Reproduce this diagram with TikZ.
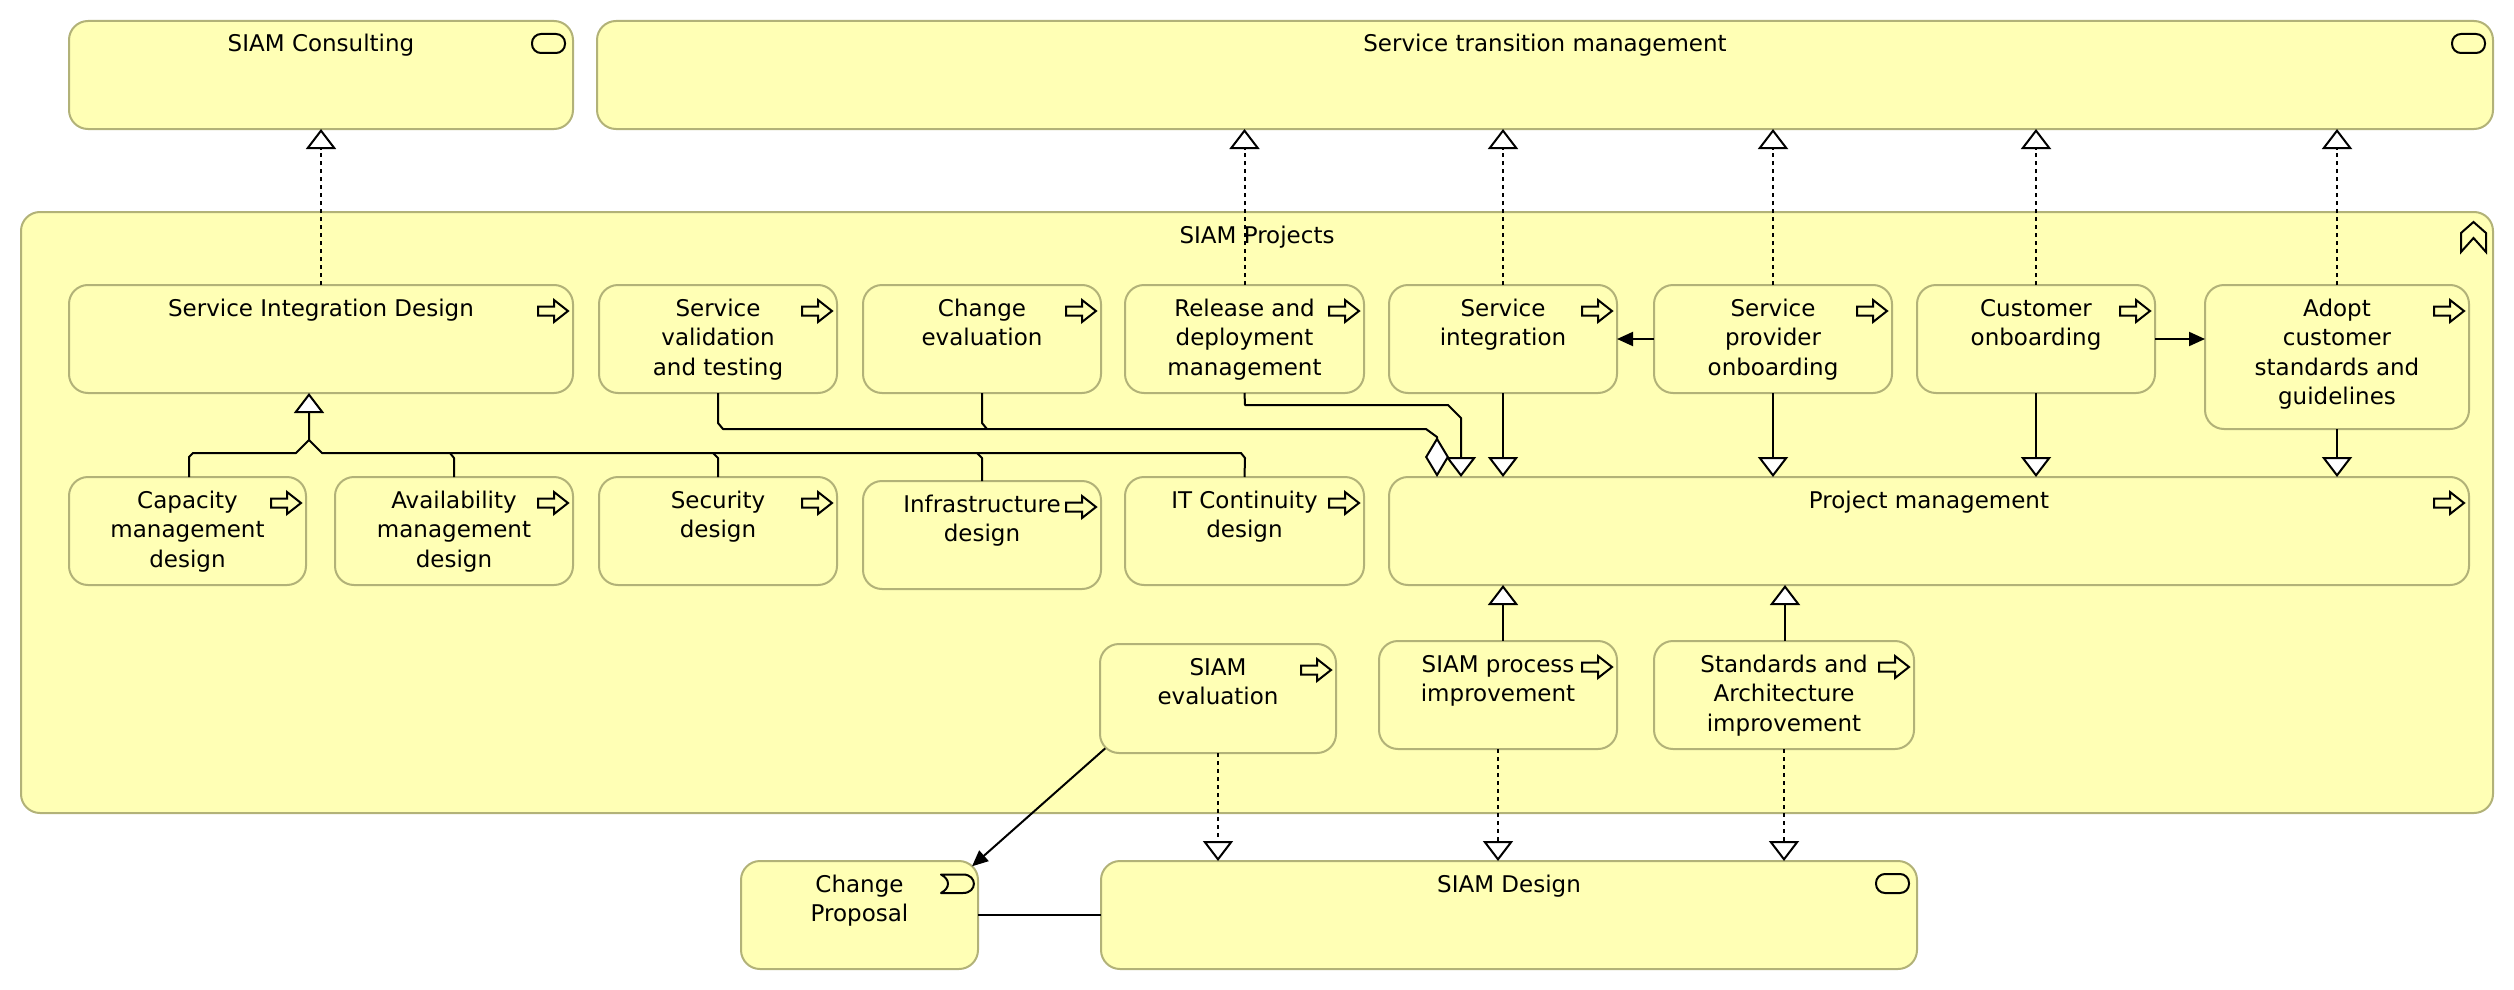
\documentclass[tikz,border=0pt]{standalone}
\usepackage{fontspec}
\setmainfont{DejaVu Sans}
\usetikzlibrary{arrows.meta}
\definecolor{boxfill}{RGB}{255,255,181}
\definecolor{boxline}{RGB}{178,178,120}
\tikzset{
  box/.style={draw=boxline,fill=boxfill,line width=2pt,rounded corners=19pt,inner sep=0pt,outer sep=0pt,anchor=north west},
  conn/.style={draw=black,line width=2pt,line join=round},
  icon/.style={draw=black,line width=2pt,line join=miter},
  openhead/.tip={Triangle[open,fill=white,length=20pt,width=30pt,line width=2pt]},
  flowhead/.tip={Triangle[length=16pt,width=14pt]},
  realize/.style={conn,dash pattern=on 4pt off 4pt,-{openhead}},
  solidtri/.style={conn,-{openhead}},
  trigger/.style={conn,-{flowhead}},
}
\newcommand{\bx}[6]{%
  \pgfmathsetlengthmacro{\bw}{(#4)-(#2)}%
  \pgfmathsetlengthmacro{\bh}{(#5)-(#3)}%
  \node[box] (#1) at (#2,#3) {\parbox[t][\bh][t]{\bw}{\centering\fontsize{23}{29.6}\selectfont\rule{0pt}{31pt}#6}};}
\newcommand{\proc}[1]{\draw[icon,shift={(#1.north east)}] (-35,21.5) -- (-19,21.5) -- (-19,15) -- (-5,26) -- (-19,37) -- (-19,30.5) -- (-35,30.5) -- cycle;}
\newcommand{\serv}[1]{\draw[icon,rounded corners=9pt,shift={(#1.north east)}] (-41,13) rectangle (-8,32);}
\begin{document}
\begin{tikzpicture}[x=1pt,y=-1pt]
\useasboundingbox (0,0) rectangle (2514,990);
\bx{cons}{69}{21}{573}{129}{SIAM Consulting}
\bx{trans}{597}{21}{2493}{129}{Service transition management}
\bx{proj}{21}{212}{2493}{813}{SIAM Projects}
\bx{sid}{69}{285}{573}{393}{Service Integration Design}
\bx{val}{599}{285}{837}{393}{Service\\validation\\and testing}
\bx{chg}{863}{285}{1101}{393}{Change\\evaluation}
\bx{rel}{1125}{285}{1364}{393}{Release and\\deployment\\management}
\bx{int}{1389}{285}{1617}{393}{Service\\integration}
\bx{prov}{1654}{285}{1892}{393}{Service\\provider\\onboarding}
\bx{cust}{1917}{285}{2155}{393}{Customer\\onboarding}
\bx{adopt}{2205}{285}{2469}{429}{Adopt\\customer\\standards and\\guidelines}
\bx{cap}{69}{477}{306}{585}{Capacity\\management\\design}
\bx{avail}{335}{477}{573}{585}{Availability\\management\\design}
\bx{sec}{599}{477}{837}{585}{Security\\design}
\bx{inf}{863}{481}{1101}{589}{Infrastructure\\design}
\bx{it}{1125}{477}{1364}{585}{IT Continuity\\design}
\bx{pm}{1389}{477}{2469}{585}{Project management}
\bx{eval}{1100}{644}{1336}{753}{SIAM\\evaluation}
\bx{imp}{1379}{641}{1617}{749}{SIAM process\\improvement}
\bx{std}{1654}{641}{1914}{749}{Standards and\\Architecture\\improvement}
\bx{cp}{741}{861}{978}{969}{Change\\Proposal}
\bx{sd}{1101}{861}{1917}{969}{SIAM Design}
\foreach \n in {sid,val,chg,rel,int,prov,cust,adopt,cap,avail,sec,inf,it,pm,eval,imp,std} {\proc{\n}}
\foreach \n in {cons,trans,sd} {\serv{\n}}
% event icon
\draw[icon,line join=round,shift={(cp.north east)}] (-37,13.5) -- (-15,13.5) .. controls (-0.5,13.5) and (-0.5,32) .. (-15,32) -- (-37,32) .. controls (-27.7,27) and (-27.7,18.5) .. (-37,13.5) -- cycle;
% grouping icon
\draw[icon,shift={(proj.north east)}] (-32,21) -- (-19.5,10) -- (-7,21) -- (-7,40) -- (-19.5,26) -- (-32,40) -- cycle;
% realizations upward
\draw[realize] (sid.north) -- (cons.south);
\draw[realize] (rel.north) -- (rel.north |- trans.south);
\draw[realize] (int.north) -- (int.north |- trans.south);
\draw[realize] (prov.north) -- (prov.north |- trans.south);
\draw[realize] (cust.north) -- (cust.north |- trans.south);
\draw[realize] (adopt.north) -- (adopt.north |- trans.south);
% realizations downward
\draw[realize] (eval.south) -- (eval.south |- sd.north);
\draw[realize] (imp.south) -- (imp.south |- sd.north);
\draw[realize] (std.south) -- (std.south |- sd.north);
% specialization to project management
\draw[solidtri] (int.south) -- (int.south |- pm.north);
\draw[solidtri] (prov.south) -- (prov.south |- pm.north);
\draw[solidtri] (cust.south) -- (cust.south |- pm.north);
\draw[solidtri] (adopt.south) -- (adopt.south |- pm.north);
\draw[solidtri] (imp.north -| int.south) -- (int.south |- pm.south);
\draw[solidtri] ([xshift=1pt]std.north) -- ([xshift=1pt]std.north |- pm.south);
\draw[solidtri] (rel.south) -- (1245,405) -- (1448,405) -- (1461,418) -- (1461,0 |- pm.north);
% aggregation
\draw[conn,-{Diamond[open,fill=white,length=40pt,width=24pt,line width=2pt]}] (val.south) -- (718,423) -- (723,429) -- (1426,429) -- (1437,437) -- (1437,0 |- pm.north);
\draw[conn] (chg.south) -- (982,423) -- (987,429);
% specialization tree
\draw[solidtri] ([xshift=1.5pt]cap.north) -- (189,457) -- (193,453) -- (296,453) -- (309,440) -- ([xshift=-12pt]sid.south);
\draw[conn] (it.north) -- (1245,458) -- (1241,453) -- (322,453) -- (309,440);
\draw[conn] (avail.north) -- (454,458) -- (450,453);
\draw[conn] (sec.north) -- (718,458) -- (713,453);
\draw[conn] (inf.north) -- (982,458) -- (977,453);
% triggering
\draw[trigger] (prov.west |- 0,339) -- (int.east |- 0,339);
\draw[trigger] (cust.east |- 0,339) -- (adopt.west |- 0,339);
\draw[trigger,shorten <=-7pt,shorten >=-8pt] (eval.south west) -- (cp.north east);
% association
\draw[conn] (cp.east) -- (sd.west);
\end{tikzpicture}
\end{document}
